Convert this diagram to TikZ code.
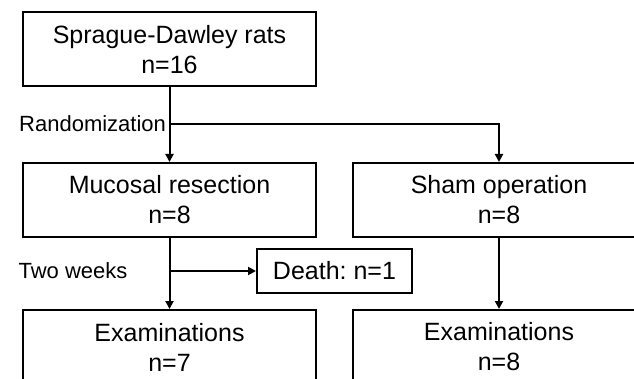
\documentclass[tikz,border=0pt]{standalone}
\usepackage{fontspec}
\setmainfont{Liberation Sans}
\usetikzlibrary{arrows.meta}
\frenchspacing

\tikzset{
  flowbox/.style={draw, line width=2pt, align=center, minimum width=293pt,
    minimum height=74pt, inner sep=0pt, font=\fontsize{25}{30}\selectfont},
  smallbox/.style={flowbox, minimum width=155pt, minimum height=44pt},
  steplabel/.style={font=\fontsize{22}{26}\selectfont},
  flowarrow/.style={line width=2pt, -{Triangle[length=8pt,width=8pt]}}
}

\begin{document}
\begin{tikzpicture}[x=1pt, y=-1pt]     % one unit = one pixel, y runs down
  \useasboundingbox (0,0) rectangle (634,379);
  \clip (0,0) rectangle (634,379);

  % the boxes
  \node[flowbox] (rats) at (169.5,49.5) {Sprague-Dawley rats\\ n=16};
  \node[flowbox] (mucosal) at (169.5,200) {Mucosal resection\\ n=8};
  \node[flowbox] (sham) at (499,200) {Sham operation\\ n=8};
  \node[smallbox] (death) at (334.5,271) {Death: n=1};
  \node[flowbox] (examleft) at (169.5,347) {Examinations\\ n=7};
  \node[flowbox] (examright) at (499,347) {Examinations\\ n=8};

  % branch points and their labels
  \coordinate (randsplit) at (169.5,124);
  \coordinate (weeksplit) at (169.5,271);
  \node[steplabel, left] (randtext) at (randsplit) {Randomization};
  \node[steplabel] (weekstext) at (73,271) {Two weeks};

  % connectors
  \draw[flowarrow] (rats) -- (mucosal);
  \draw[flowarrow] (randsplit) -| (sham.north);
  \draw[flowarrow] (mucosal) -- (examleft);
  \draw[flowarrow] (weeksplit) -- (death);
  \draw[flowarrow] (sham) -- (examright);
\end{tikzpicture}
\end{document}
